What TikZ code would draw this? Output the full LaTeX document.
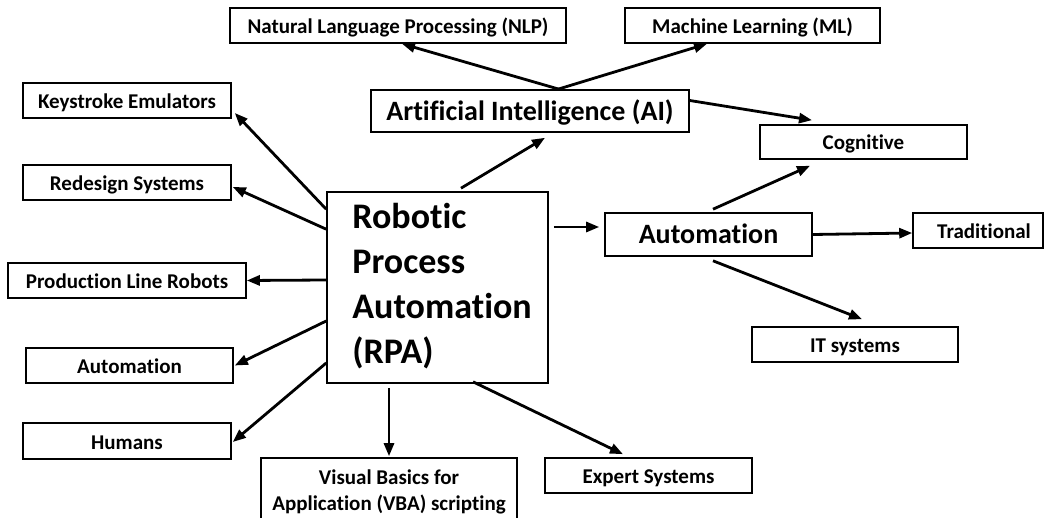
\documentclass[tikz,border=0pt]{standalone}
\usepackage{fontspec}
\setmainfont{Carlito}[Ligatures=NoCommon]
\usetikzlibrary{arrows.meta}

\tikzset{
  box/.style={draw, line width=1.6pt, inner sep=0pt, align=center,
    text height=16pt, text depth=0pt,
    font=\bfseries\fontsize{21}{26}\selectfont},
  midbox/.style={box, text height=19pt, text depth=0pt,
    font=\bfseries\fontsize{28}{32}\selectfont},
  arr/.style={line width=2.8pt, -{Triangle[length=13pt,width=10pt]}},
}

\begin{document}
\begin{tikzpicture}[x=1pt, y=-1pt]
\useasboundingbox (0,0) rectangle (1044,518);

% central topic
\node[box, minimum width=221, minimum height=191] (rpa) at (437.5,287.5) {};
\node[anchor=north west, inner sep=0pt, align=left,
      font=\bfseries\fontsize{36}{45}\selectfont]
      (rpatext) at ([xshift=26pt,yshift=-12pt]rpa.north west)
      {Robotic\\Process\\Automation\\(RPA)};

% second level
\node[midbox, minimum width=318, minimum height=42] (ai) at (530,111) {Artificial Intelligence (AI)};
\node[midbox, minimum width=207, minimum height=43] (aut) at (708.5,234.5) {Automation};

% leaves
\node[box, minimum width=336, minimum height=35] (nlp) at (398,25.5) {Natural Language Processing (NLP)};
\node[box, minimum width=255, minimum height=35] (ml) at (752.5,25.5) {Machine Learning (ML)};
\node[box, minimum width=207, minimum height=34] (cog) at (863.5,142) {Cognitive};
\node[box, minimum width=130, minimum height=35] (trad) at (978,230.5) {\hspace*{12pt}Traditional};
\node[box, minimum width=206, minimum height=35] (it) at (855,344.5) {IT systems};
\node[box, minimum width=207, minimum height=35] (exp) at (648.5,475.5) {Expert Systems};
\node[box, minimum width=208, minimum height=35] (key) at (127,100.5) {Keystroke Emulators};
\node[box, minimum width=208, minimum height=35] (red) at (127,182.5) {Redesign Systems};
\node[box, minimum width=238, minimum height=35] (plr) at (127,280.5) {Production Line Robots};
\node[box, minimum width=207, minimum height=35] (autl) at (129.5,365.5) {Automation};
\node[box, minimum width=208, minimum height=36] (hum) at (127,441) {Humans};

% bottom box runs off the lower edge
\node[box, draw=none, text height=, text depth=, minimum width=254, minimum height=66]
      (vba) at (389,492) {Visual Basics for\\Application (VBA) scripting};
\draw[line width=1.6pt] (vba.north west |- 0,518) -- (vba.north west)
      -- (vba.north east) -- (vba.north east |- 0,518);

% connectors
\draw[arr] ([xshift=29pt]ai.north) -- ([xshift=4pt]nlp.south);
\draw[arr] ([xshift=28pt]ai.north) -- ([xshift=-45.5pt]ml.south);
\draw[arr] ([yshift=10.5pt]ai.east) -- ([xshift=-51.5pt,yshift=4pt]cog.north);
\draw[arr] ([xshift=23.5pt,yshift=3pt]rpa.north) -- ([xshift=15pt,yshift=-5pt]ai.south);
\draw[arr] ([yshift=-18pt]rpa.north west) -- ([xshift=3pt,yshift=-12.5pt]key.east);
\draw[arr] ([yshift=-38pt]rpa.north west) -- ([xshift=1pt,yshift=-4.5pt]red.east);
\draw[arr] ([yshift=7.5pt]rpa.west) -- (plr.east);
\draw[arr] ([yshift=-33.5pt]rpa.west) -- ([xshift=1pt]autl.east);
\draw[arr] ([yshift=-75.5pt]rpa.west) -- ([xshift=1pt,yshift=-1pt]hum.east);
\draw[arr] ([xshift=-48.5pt,yshift=-4pt]rpa.south) -- ([yshift=2pt]vba.north);
\draw[arr] ([xshift=35.5pt,yshift=2pt]rpa.south) -- ([xshift=-25.5pt,yshift=3pt]exp.north);
\draw[arr] ([xshift=5pt,yshift=60.5pt]rpa.east) -- ([xshift=-5pt,yshift=7.5pt]aut.west);
\draw[arr] ([xshift=4.5pt,yshift=3pt]aut.north) -- ([xshift=-53.5pt,yshift=-6pt]cog.south);
\draw[arr] (aut.east) -- ([yshift=-2.5pt]trad.west);
\draw[arr] ([xshift=4.5pt,yshift=-4pt]aut.south) -- ([xshift=7pt,yshift=7pt]it.north);
\end{tikzpicture}
\end{document}
